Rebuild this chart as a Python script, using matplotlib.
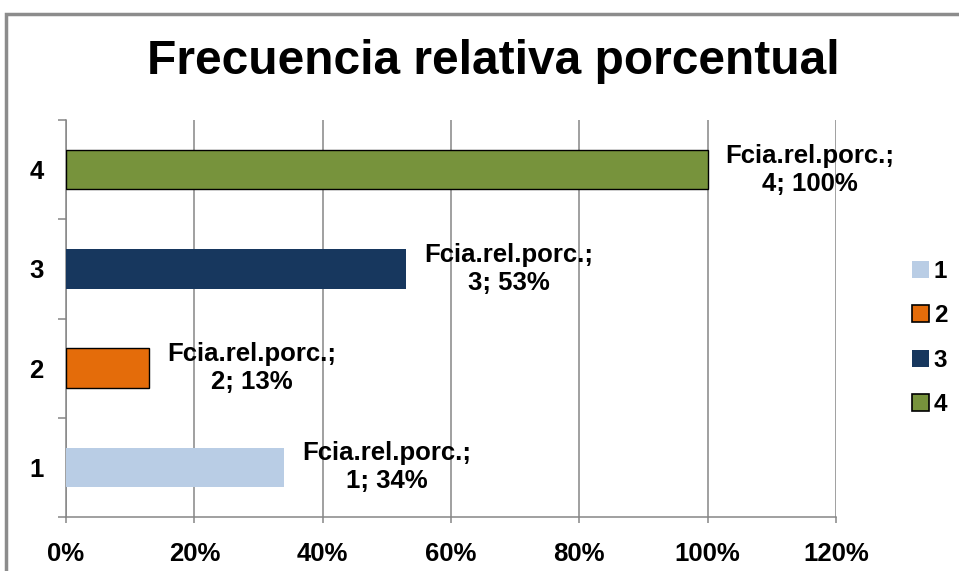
import matplotlib
matplotlib.use("Agg")
import matplotlib.pyplot as plt
from matplotlib.patches import Patch, Rectangle
from matplotlib.ticker import FixedLocator, PercentFormatter

# Data
categories = [1, 2, 3, 4]
values = [34, 13, 53, 100]  # percent
colors = ["#B9CDE5", "#E46C0A", "#17375E", "#77933C"]
edges = ["none", "black", "none", "black"]
labels = [f"Fcia.rel.porc.;\n{c}; {v}%" for c, v in zip(categories, values)]
x_ticks = [0, 20, 40, 60, 80, 100, 120]

plt.rcParams["font.family"] = ["Liberation Sans", "DejaVu Sans"]
plt.rcParams["font.weight"] = "bold"

W, H = 959, 571
fig = plt.figure(figsize=(W / 100, H / 100), dpi=100)
fig.patch.set_facecolor("white")

# outer chart frame (runs off the right and bottom edges)
fig.patches.append(Rectangle((6 / W, -0.2), 1.2, 1.2 - 14 / H,
                             transform=fig.transFigure, fill=False,
                             edgecolor="#8c8c8c", linewidth=2.5))

ax = fig.add_axes([66 / W, 1 - 517 / H, 770 / W, 397 / H])

ax.barh(categories, values, height=0.4, color=colors,
        edgecolor=edges, linewidth=1.0, zorder=3)

for c, v, txt in zip(categories, values, labels):
    ax.annotate(txt, xy=(v, c), xytext=(13, 0), textcoords="offset points",
                ha="left", va="center", multialignment="center",
                fontsize=18.5, fontweight="bold", zorder=4)

ax.set_xlim(0, 120)
ax.set_ylim(0.5, 4.5)
ax.xaxis.set_major_locator(FixedLocator(x_ticks))
ax.xaxis.set_major_formatter(PercentFormatter(decimals=0))
ax.grid(axis="x", color="#868686", linewidth=1.1, zorder=0)

# category boundaries as major ticks, labels on minor ticks
ax.yaxis.set_major_locator(FixedLocator([0.5, 1.5, 2.5, 3.5, 4.5]))
ax.yaxis.set_major_formatter(plt.NullFormatter())
ax.yaxis.set_minor_locator(FixedLocator(categories))
ax.set_yticklabels([str(c) for c in categories], minor=True)
ax.tick_params(axis="y", which="major", length=6, width=1.1, color="#868686")
ax.tick_params(axis="y", which="minor", length=0, pad=16, labelsize=18.5)
ax.tick_params(axis="x", length=4, width=1.1, color="#868686", pad=14,
               labelsize=18.5)

for side in ["top", "right"]:
    ax.spines[side].set_visible(False)
for side in ["left", "bottom"]:
    ax.spines[side].set_color("#868686")
    ax.spines[side].set_linewidth(1.1)

fig.text(493 / W, 1 - 62 / H, "Frecuencia relativa porcentual",
         ha="center", va="center", fontsize=34.5, fontweight="bold")

handles = [Patch(facecolor=col, edgecolor=e, linewidth=1.2)
           for col, e in zip(colors, edges)]
fig.legend(handles, [str(c) for c in categories],
           loc="center left", bbox_to_anchor=(890 / W, 1 - 338 / H),
           frameon=False, fontsize=17.5, handlelength=0.7, handleheight=0.7,
           handletextpad=0.2, labelspacing=0.88)

fig.savefig("out.png", dpi=100)
